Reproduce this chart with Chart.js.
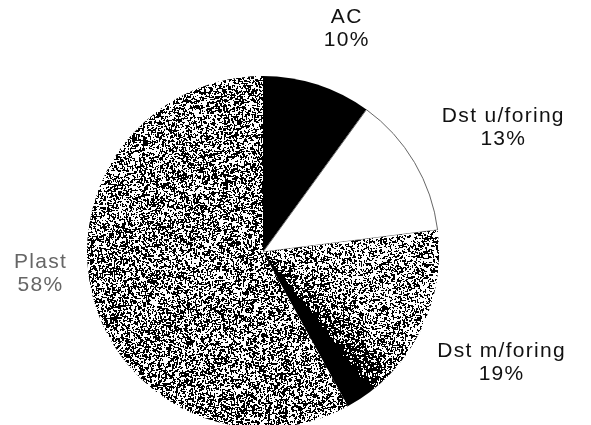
<!DOCTYPE html>
<html>
<head>
<meta charset="utf-8">
<script src="https://cdn.jsdelivr.net/npm/chart.js@4.4.0/dist/chart.umd.min.js"></script>
<style>
  html, body { margin: 0; padding: 0; background: #ffffff; }
  #wrap { width: 591px; height: 425px; }
</style>
</head>
<body>
<div id="wrap"><canvas id="pie" width="591" height="425"></canvas></div>
<script>
  const categories = ["AC", "Dst u/foring", "Dst m/foring", "Plast"];
  const shares = [10, 13, 19, 58];
  const pctLabels = ["10%", "13%", "19%", "58%"];

  // label block centre, relative to the pie centre in units of radius
  const labelSpots = [[0.47, -1.27], [1.36, -0.71], [1.35, 0.625], [-1.27, 0.12]];

  const W = 591, H = 425;
  const patternCache = {};

  // cheap integer hash -> [0,1), keeps the stipple stable between renders
  function hash(x, y, seed) {
    let h = (x * 374761393 + y * 668265263 + seed * 144665) | 0;
    h = Math.imul(h ^ (h >>> 13), 1274126177);
    h = h ^ (h >>> 16);
    return (h >>> 0) / 4294967296;
  }

  // lightly blurred noise so the dots join into short runs
  function grain(x, y, seed) {
    return (4 * hash(x, y, seed) + hash(x + 1, y, seed) + hash(x - 1, y, seed) +
            hash(x, y + 1, seed) + hash(x, y - 1, seed)) / 8;
  }

  // density -> threshold on the blurred noise (rough normal quantile)
  function cut(d) {
    if (d >= 0.995) return 2;
    if (d <= 0.005) return -1;
    return 0.5 + 0.161 * 0.6 * Math.log(d / (1 - d));
  }

  // build a stipple texture; density(x, y) gives the share of black pixels
  function stipple(density, seed) {
    const c = document.createElement("canvas");
    c.width = W; c.height = H;
    const g = c.getContext("2d");
    const img = g.createImageData(W, H);
    for (let y = 0; y < H; y++) {
      for (let x = 0; x < W; x++) {
        const v = grain(x, y, seed) < cut(density(x, y)) ? 0 : 255;
        const i = (y * W + x) * 4;
        img.data[i] = img.data[i + 1] = img.data[i + 2] = v;
        img.data[i + 3] = 255;
      }
    }
    g.putImageData(img, 0, 0);
    return g.createPattern(c, "no-repeat");
  }

  function fillFor(ctx) {
    const i = ctx.dataIndex;
    if (i === 0) return "#000000";
    if (i === 1) return "#ffffff";
    const area = ctx.chart.chartArea;
    if (!area) return "#888888";
    const cx = (area.left + area.right) / 2;
    const cy = (area.top + area.bottom) / 2;
    const key = i + ":" + cx + ":" + cy;
    if (patternCache[key]) return patternCache[key];
    let pat;
    if (i === 3) {
      pat = stipple(() => 0.46, 7);
    } else {
      // shaded wedge: dark along its trailing edge, lighter toward the leading edge
      const total = shares.reduce((a, b) => a + b, 0);
      const a0 = (shares[0] + shares[1]) / total * 360;
      const a1 = (shares[0] + shares[1] + shares[2]) / total * 360;
      pat = stipple((x, y) => {
        let ang = Math.atan2(x - cx, cy - y) * 180 / Math.PI;
        if (ang < 0) ang += 360;
        const t = (a1 - ang) / (a1 - a0);
        if (t < 0.13) return 1;
        if (t < 0.55) {
          const k = (t - 0.13) / 0.42;
          return 1 - Math.sqrt(k) * 0.64;
        }
        return 0.36;
      }, 3);
    }
    patternCache[key] = pat;
    return pat;
  }

  const sliceLabels = {
    id: "sliceLabels",
    afterDraw(chart) {
      const arc = chart.getDatasetMeta(0).data[0];
      if (!arc) return;
      const r = arc.outerRadius;
      const g = chart.ctx;
      g.save();
      g.font = "21px 'Liberation Sans', Arial, sans-serif";
      g.letterSpacing = "1.3px";
      g.textAlign = "center";
      g.textBaseline = "middle";
      categories.forEach((name, i) => {
        const x = arc.x + labelSpots[i][0] * r;
        const y = arc.y + labelSpots[i][1] * r;
        g.fillStyle = i === 3 ? "#666666" : "#111111";
        g.fillText(name, x + 1, y - 11);
        g.fillText(pctLabels[i], x + 1, y + 12);
      });
      g.restore();
    }
  };

  new Chart(document.getElementById("pie"), {
    type: "pie",
    data: {
      labels: categories,
      datasets: [{
        data: shares,
        backgroundColor: fillFor,
        borderColor: ["#000000", "#666666", "#000000", "#000000"],
        borderWidth: [0, 1, 0, 0],
        radius: 176
      }]
    },
    options: {
      responsive: false,
      animation: false,
      layout: { padding: { left: 0, right: 65, top: 79, bottom: 0 } },
      plugins: {
        legend: { display: false },
        tooltip: { enabled: false }
      }
    },
    plugins: [sliceLabels]
  });
</script>
</body>
</html>
